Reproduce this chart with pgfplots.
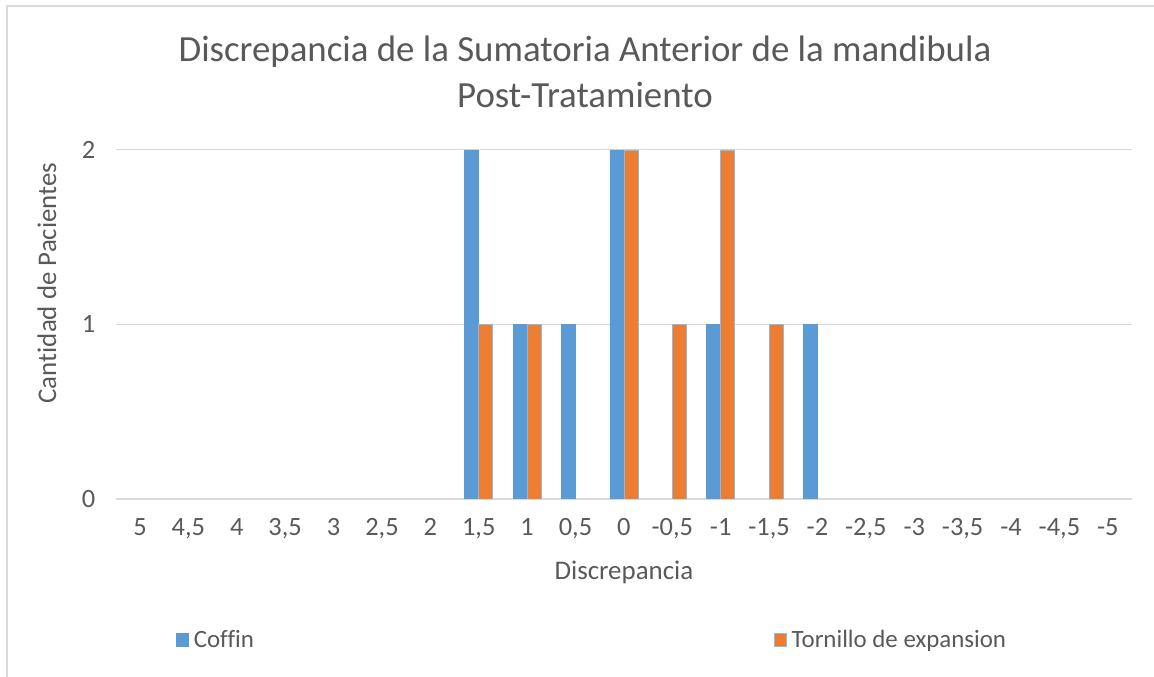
\documentclass[border=0pt]{standalone}
\usepackage{pgfplots}
\pgfplotsset{compat=1.18}
\usepackage{fontspec}
\setmainfont{Carlito}[Ligatures=NoCommon]
\definecolor{cblue}{HTML}{5B9BD5}
\definecolor{corange}{HTML}{ED7D31}
\definecolor{tgray}{HTML}{595959}
\definecolor{ggray}{HTML}{D9D9D9}
\begin{document}
\begin{tikzpicture}[x=1bp,y=1bp]
\useasboundingbox (0,0) rectangle (1154,677);
\draw[ggray, line width=2.2bp] (7,0) -- (7,671) -- (1154,671);
\begin{axis}[
  at={(115.8bp,178bp)}, anchor=south west,
  scale only axis, width=1016.2bp, height=349bp,
  xmin=-0.5, xmax=20.5, ymin=0, ymax=2,
  axis line style={draw=none},
  axis x line*=bottom,
  ytick={0,1,2},
  ymajorgrids, grid style={ggray, line width=1bp},
  extra y ticks={0}, extra y tick style={grid style={ggray,line width=1.2bp}, yticklabels={}},
  xtick={0,...,20},
  xticklabels={5,{4,5},4,{3,5},3,{2,5},2,{1,5},1,{0,5},0,{-0,5},-1,{-1,5},-2,{-2,5},-3,{-3,5},-4,{-4,5},-5},
  major tick length=0pt,
  tick label style={font=\fontsize{26.5}{30}\selectfont, text=tgray},
  xticklabel style={yshift=-16bp},
  yticklabel style={xshift=-17bp},
  /pgf/number format/assume math mode=true,
  ybar, bar width=14bp,
  title={Discrepancia de la Sumatoria Anterior de la mandibula\\Post-Tratamiento},
  title style={at={(axis description cs:0.4617,1.207)}, anchor=center, align=center, font=\fontsize{37}{47}\selectfont, text=tgray},
  xlabel={Discrepancia},
  xlabel style={at={(axis description cs:0.5,-0.209)}, anchor=center, font=\fontsize{27}{30}\selectfont, text=tgray},
  ylabel={Cantidad de Pacientes},
  ylabel style={at={(axis description cs:-0.0677,0.619)}, anchor=center, rotate=0, font=\fontsize{27}{30}\selectfont, text=tgray},
  legend columns=2,
  legend style={at={(axis description cs:0.059,-0.404)}, anchor=west, draw=none, fill=none, inner sep=0pt,
    font=\fontsize{25}{30}\selectfont, text=tgray,
    /tikz/column 1/.style={column sep=3bp},
    /tikz/column 2/.style={column sep=518bp},
    /tikz/column 3/.style={column sep=3bp}},
  legend image code/.code={\filldraw[#1] (0bp,-6.5bp) rectangle (12bp,6.5bp);},
]
\addplot[fill=cblue, draw=cblue, line width=0.8bp, bar shift=-7bp] coordinates {(7,2) (8,1) (9,1) (10,2) (12,1) (14,1)};
\addlegendentry{Coffin}
\addplot[fill=corange, draw=cblue!70, line width=0.8bp, bar shift=7bp] coordinates {(7,1) (8,1) (10,2) (11,1) (12,2) (13,1)};
\addlegendentry{Tornillo de expansion}
\end{axis}
\end{tikzpicture}
\end{document}
